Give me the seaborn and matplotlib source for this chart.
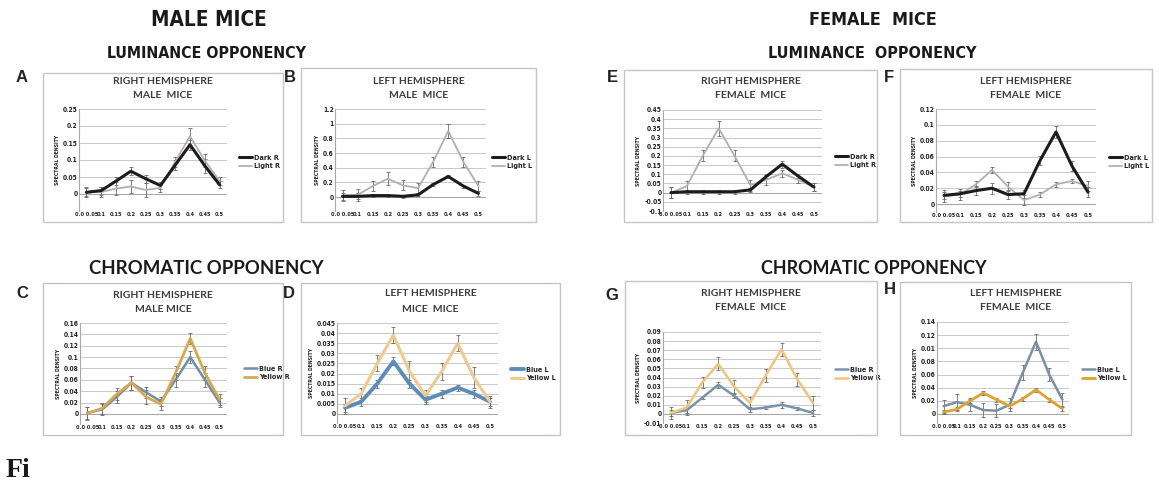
import matplotlib
matplotlib.use("Agg")
import matplotlib.pyplot as plt
import seaborn as sns
from matplotlib import font_manager
from matplotlib.font_manager import FontProperties
from matplotlib.patches import Rectangle

# category axis (spatial frequency bins)
freq_labels = ["0.0 0.05", "0.1", "0.15", "0.2", "0.25", "0.3", "0.35", "0.4", "0.45", "0.5"]

# A - right hemisphere, male, luminance
a_dark = [0.005, 0.01, 0.038, 0.067, 0.045, 0.025, 0.085, 0.145, 0.083, 0.027]
a_dark_err = [0.012, 0.012, 0.012, 0.012, 0.012, 0.01, 0.015, 0.015, 0.02, 0.01]
a_light = [0.005, 0.006, 0.016, 0.022, 0.012, 0.018, 0.095, 0.17, 0.098, 0.038]
a_light_err = [0.015, 0.015, 0.02, 0.02, 0.02, 0.012, 0.015, 0.025, 0.02, 0.012]

# B - left hemisphere, male, luminance
b_dark = [0.01, 0.01, 0.02, 0.02, 0.01, 0.03, 0.17, 0.28, 0.15, 0.05]
b_dark_err = [0.05, 0.04, 0.02, 0.02, 0.02, 0.02, 0.02, 0.02, 0.02, 0.03]
b_light = [0.02, 0.03, 0.15, 0.25, 0.16, 0.12, 0.48, 0.9, 0.48, 0.15]
b_light_err = [0.08, 0.08, 0.07, 0.09, 0.07, 0.07, 0.07, 0.09, 0.07, 0.07]

# E - right hemisphere, female, luminance
e_dark = [0.0, 0.005, 0.005, 0.005, 0.005, 0.015, 0.088, 0.155, 0.09, 0.03]
e_dark_err = [0.03, 0.01, 0.01, 0.01, 0.01, 0.01, 0.01, 0.02, 0.01, 0.02]
e_light = [0.0, 0.035, 0.2, 0.35, 0.2, 0.04, 0.07, 0.105, 0.07, 0.03]
e_light_err = [0.03, 0.03, 0.03, 0.04, 0.03, 0.03, 0.03, 0.02, 0.02, 0.02]

# F - left hemisphere, female, luminance
f_dark = [0.011, 0.013, 0.017, 0.02, 0.012, 0.013, 0.055, 0.091, 0.048, 0.015]
f_dark_err = [0.004, 0.004, 0.006, 0.007, 0.006, 0.005, 0.006, 0.008, 0.006, 0.006]
f_light = [0.01, 0.012, 0.025, 0.043, 0.022, 0.005, 0.012, 0.025, 0.029, 0.023]
f_light_err = [0.008, 0.007, 0.004, 0.004, 0.006, 0.006, 0.003, 0.003, 0.003, 0.006]

# C - right hemisphere, male, chromatic
c_blue = [0.002, 0.008, 0.03, 0.055, 0.038, 0.022, 0.06, 0.1, 0.06, 0.02]
c_blue_err = [0.01, 0.01, 0.01, 0.012, 0.01, 0.008, 0.012, 0.01, 0.012, 0.008]
c_yellow = [0.001, 0.01, 0.035, 0.055, 0.03, 0.017, 0.072, 0.133, 0.072, 0.025]
c_yellow_err = [0.012, 0.01, 0.01, 0.012, 0.012, 0.01, 0.012, 0.01, 0.012, 0.01]

# D - left hemisphere, male, chromatic
d_blue = [0.003, 0.006, 0.015, 0.026, 0.015, 0.007, 0.01, 0.013, 0.01, 0.006]
d_blue_err = [0.002, 0.002, 0.002, 0.002, 0.002, 0.002, 0.002, 0.0015, 0.002, 0.002]
d_yellow = [0.004, 0.01, 0.025, 0.039, 0.021, 0.009, 0.021, 0.035, 0.018, 0.006]
d_yellow_err = [0.004, 0.003, 0.004, 0.004, 0.005, 0.003, 0.004, 0.004, 0.005, 0.003]

# G - right hemisphere, female, chromatic
g_blue = [0.001, 0.004, 0.018, 0.032, 0.02, 0.005, 0.007, 0.01, 0.006, 0.001]
g_blue_err = [0.003, 0.003, 0.002, 0.003, 0.002, 0.003, 0.002, 0.003, 0.002, 0.003]
g_yellow = [0.001, 0.007, 0.035, 0.055, 0.03, 0.012, 0.042, 0.071, 0.038, 0.012]
g_yellow_err = [0.007, 0.008, 0.006, 0.007, 0.007, 0.007, 0.007, 0.007, 0.007, 0.008]

# H - left hemisphere, female, chromatic
h_blue = [0.012, 0.018, 0.014, 0.006, 0.005, 0.014, 0.063, 0.11, 0.06, 0.022]
h_blue_err = [0.01, 0.012, 0.01, 0.01, 0.01, 0.01, 0.012, 0.012, 0.01, 0.01]
h_yellow = [0.003, 0.007, 0.02, 0.032, 0.022, 0.012, 0.023, 0.037, 0.022, 0.008]
h_yellow_err = [0.003, 0.003, 0.003, 0.003, 0.003, 0.003, 0.003, 0.003, 0.003, 0.003]

W, H = 1159, 482

sns.set_style("white")
plt.rcParams["font.family"] = ["DejaVu Sans"]


def find_condensed_bold():
    # pick the narrowest installed condensed / narrow face, preferring bold
    best = None
    for f in font_manager.fontManager.ttflist:
        st = f.stretch
        if isinstance(st, str):
            st = font_manager.stretch_dict.get(st, 500)
        named = "Condensed" in f.name or "Narrow" in f.name or "Cond" in f.fname
        if not (named or st < 500) or f.style != "normal":
            continue
        w = f.weight if isinstance(f.weight, int) else font_manager.weight_dict.get(f.weight, 400)
        key = (abs(w - 700), st)
        if best is None or key < best[0]:
            best = (key, f.fname)
    return best[1] if best else None


cond_path = find_condensed_bold()
if cond_path:
    head_fp = FontProperties(fname=cond_path)
else:
    head_fp = FontProperties(family="DejaVu Sans", weight="bold")

fig = plt.figure(figsize=(W / 100, H / 100), dpi=100)
renderer = fig.canvas.get_renderer()


def fbox(l, t, r, b):
    return [l / W, 1 - b / H, (r - l) / W, (b - t) / H]


def fx(x):
    return x / W


def fy(y):
    return 1 - y / H


def fit_text(cx, cy, s, width_px, max_size, fp=None, **kw):
    # heading text sized so its width roughly matches the reference
    fp = (fp or head_fp).copy()
    fp.set_size(max_size)
    t = fig.text(fx(cx), fy(cy), s, fontproperties=fp, ha="center", va="center", **kw)
    w = t.get_window_extent(renderer).width
    if w > width_px:
        fp.set_size(max_size * width_px / w)
        t.set_fontproperties(fp)
    return t


panels = [
    dict(letter="A", lpos=(22, 78), frame=(43, 73, 283, 222), title=("RIGHT HEMISPHERE", "MALE  MICE"),
         ty=(81, 96), axes=(79, 109, 227, 211), ylim=(-0.05, 0.25),
         yticks=[0, 0.05, 0.1, 0.15, 0.2, 0.25], ylabels=["0", "0.05", "0.1", "0.15", "0.2", "0.25"],
         series=[("Light R", a_light, a_light_err, "#b8acac", 1.3), ("Dark R", a_dark, a_dark_err, "#1c1c1c", 2.2)],
         leg=(235, 162)),
    dict(letter="B", lpos=(290, 77), frame=(301, 68, 536, 222), title=("LEFT HEMISPHERE", "MALE  MICE"),
         ty=(81, 95), axes=(335, 109, 486, 211), ylim=(-0.19, 1.2),
         yticks=[0, 0.2, 0.4, 0.6, 0.8, 1, 1.2], ylabels=["0", "0.2", "0.4", "0.6", "0.8", "1", "1.2"],
         series=[("Light L", b_light, b_light_err, "#b8acac", 1.3), ("Dark L", b_dark, b_dark_err, "#1c1c1c", 2.2)],
         leg=(488, 162)),
    dict(letter="E", lpos=(612, 78), frame=(624, 70, 877, 222), title=("RIGHT HEMISPHERE", "FEMALE  MICE"),
         ty=(81, 96), axes=(663, 110, 822, 211), ylim=(-0.1, 0.45),
         yticks=[-0.1, -0.05, 0, 0.05, 0.1, 0.15, 0.2, 0.25, 0.3, 0.35, 0.4, 0.45],
         ylabels=["-0.1", "-0.05", "0", "0.05", "0.1", "0.15", "0.2", "0.25", "0.3", "0.35", "0.4", "0.45"],
         series=[("Light R", e_light, e_light_err, "#b8acac", 1.3), ("Dark R", e_dark, e_dark_err, "#1c1c1c", 2.2)],
         leg=(831, 161)),
    dict(letter="F", lpos=(889, 77), frame=(900, 69, 1152, 222), title=("LEFT HEMISPHERE", "FEMALE  MICE"),
         ty=(81, 96), axes=(936, 109, 1096, 212), ylim=(-0.01, 0.12),
         yticks=[0, 0.02, 0.04, 0.06, 0.08, 0.1, 0.12],
         ylabels=["0", "0.02", "0.04", "0.06", "0.08", "0.1", "0.12"],
         series=[("Light L", f_light, f_light_err, "#b8acac", 1.3), ("Dark L", f_dark, f_dark_err, "#1c1c1c", 2.2)],
         leg=(1105, 162)),
    dict(letter="C", lpos=(22, 294), frame=(43, 283, 283, 435), title=("RIGHT HEMISPHERE", "MALE MICE"),
         ty=(295, 309), axes=(80, 323, 227, 424), ylim=(-0.0176, 0.16),
         yticks=[0, 0.02, 0.04, 0.06, 0.08, 0.1, 0.12, 0.14, 0.16],
         ylabels=["0", "0.02", "0.04", "0.06", "0.08", "0.1", "0.12", "0.14", "0.16"],
         series=[("Blue R", c_blue, c_blue_err, "#6f8eaa", 1.8), ("Yellow R", c_yellow, c_yellow_err, "#d6a94e", 2.0)],
         leg=(240, 373)),
    dict(letter="D", lpos=(289, 293), frame=(301, 283, 560, 435), title=("LEFT HEMISPHERE", "MICE  MICE"),
         ty=(294, 309), axes=(337, 323, 498, 423), ylim=(-0.0045, 0.045),
         yticks=[0, 0.005, 0.01, 0.015, 0.02, 0.025, 0.03, 0.035, 0.04, 0.045],
         ylabels=["0", "0.005", "0.01", "0.015", "0.02", "0.025", "0.03", "0.035", "0.04", "0.045"],
         series=[("Blue L", d_blue, d_blue_err, "#5c8dba", 2.8), ("Yellow L", d_yellow, d_yellow_err, "#f0c98c", 2.2)],
         leg=(507, 374)),
    dict(letter="G", lpos=(612, 296), frame=(625, 281, 877, 435), title=("RIGHT HEMISPHERE", "FEMALE  MICE"),
         ty=(293, 308), axes=(663, 332, 821, 423), ylim=(-0.01, 0.09),
         yticks=[-0.01, 0, 0.01, 0.02, 0.03, 0.04, 0.05, 0.06, 0.07, 0.08, 0.09],
         ylabels=["-0.01", "0", "0.01", "0.02", "0.03", "0.04", "0.05", "0.06", "0.07", "0.08", "0.09"],
         series=[("Blue R", g_blue, g_blue_err, "#7a93ab", 1.8), ("Yellow R", g_yellow, g_yellow_err, "#f0c57a", 1.8)],
         leg=(831, 374)),
    dict(letter="H", lpos=(890, 289), frame=(900, 282, 1131, 435), title=("LEFT HEMISPHERE", "FEMALE  MICE"),
         ty=(293, 307), axes=(937, 322, 1069, 423), ylim=(-0.0137, 0.14),
         yticks=[0, 0.02, 0.04, 0.06, 0.08, 0.1, 0.12, 0.14],
         ylabels=["0", "0.02", "0.04", "0.06", "0.08", "0.01", "0.12", "0.14"],
         series=[("Blue L", h_blue, h_blue_err, "#7890a8", 1.8), ("Yellow L", h_yellow, h_yellow_err, "#dea22e", 2.0)],
         leg=(1078, 374)),
]

x = list(range(len(freq_labels)))
tick_fp = head_fp.copy()
title_fp = FontProperties(family=["Lato", "DejaVu Sans"], weight="bold", size=7.5)

for p in panels:
    l, t, r, b = p["frame"]
    fig.patches.append(Rectangle((fx(l), fy(b)), (r - l) / W, (b - t) / H, transform=fig.transFigure,
                                 fill=False, edgecolor="#cbc3c3", linewidth=1.0, zorder=0))
    fig.text(fx(p["lpos"][0]), fy(p["lpos"][1]), p["letter"], ha="center", va="center",
             fontsize=12, fontweight="bold", family=["Liberation Sans", "DejaVu Sans"], color="#222222")
    cx = (l + r) / 2
    for line, yy in zip(p["title"], p["ty"]):
        fig.text(fx(cx), fy(yy), line, ha="center", va="center", fontproperties=title_fp, color="#3a3a3a")

    ax = fig.add_axes(fbox(*p["axes"]))
    order = [1, 0] if p["series"][0][0].startswith("Light") else [0, 1]
    for name, vals, err, col, lw in p["series"]:
        ax.errorbar(x, vals, yerr=err, fmt="none", ecolor="#6a6a6a", elinewidth=0.6,
                    capsize=1.5, capthick=0.6, zorder=3)
    for name, vals, err, col, lw in p["series"]:
        sns.lineplot(x=x, y=vals, ax=ax, color=col, linewidth=lw, label=name, zorder=4)
    ax.set_xlim(-0.5, len(freq_labels) - 0.5)
    ax.set_ylim(*p["ylim"])
    ax.set_yticks(p["yticks"])
    ax.set_yticklabels(p["ylabels"])
    ax.set_xticks(x)
    ax.set_xticklabels(freq_labels)
    ax.tick_params(axis="both", length=0, pad=1, colors="#222222")
    for lab in ax.get_yticklabels():
        fp = tick_fp.copy()
        fp.set_size(4.8)
        lab.set_fontproperties(fp)
    for lab in ax.get_xticklabels():
        fp = tick_fp.copy()
        fp.set_size(4.1)
        lab.set_fontproperties(fp)
    for yv in p["yticks"]:
        ax.axhline(yv, color="#c9c9c9", linewidth=0.7, zorder=1)
    ax.axhline(0, color="#a8a8a8", linewidth=0.8, zorder=2)
    for s in ["top", "right", "bottom"]:
        ax.spines[s].set_visible(False)
    ax.spines["left"].set_color("#a8a8a8")
    ax.spines["left"].set_linewidth(0.8)
    ax.set_facecolor("none")
    ax.set_ylabel("SPECTRAL DENSITY", fontsize=3.3, fontweight="bold", labelpad=2, color="#222222")
    ax.set_xlabel("")
    hs, ls = ax.get_legend_handles_labels()
    hs = [hs[i] for i in order]
    ls = [ls[i] for i in order]
    lfp = tick_fp.copy()
    lfp.set_size(5.2)
    ax.legend(hs, ls, loc="center left", bbox_to_anchor=(fx(p["leg"][0]), fy(p["leg"][1])),
              bbox_transform=fig.transFigure, frameon=False, handlelength=1.8,
              handletextpad=0.3, labelspacing=0.3, borderpad=0, prop=lfp)

# headings
fit_text(209, 20, "MALE MICE", 116, 17, color="#1a1a1a")
fit_text(873, 20, "FEMALE  MICE", 128, 17, color="#1a1a1a")
fit_text(207, 54, "LUMINANCE OPPONENCY", 200, 15, color="#1a1a1a")
fit_text(872, 54, "LUMINANCE  OPPONENCY", 208, 15, color="#1a1a1a")
lato_fp = FontProperties(family=["Lato", "DejaVu Sans"], weight="bold")
fit_text(206, 268, "CHROMATIC OPPONENCY", 236, 14, fp=lato_fp, color="#1a1a1a")
fit_text(874, 268, "CHROMATIC OPPONENCY", 226, 14, fp=lato_fp, color="#1a1a1a")
fig.text(fx(6), fy(477), "Fi", ha="left", va="baseline", fontsize=20, fontweight="bold",
         family=["Liberation Serif", "DejaVu Serif"], color="#1a1a1a")

fig.savefig("out.png", dpi=100)
